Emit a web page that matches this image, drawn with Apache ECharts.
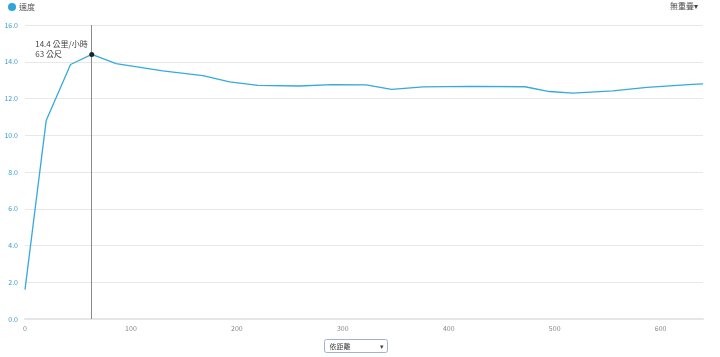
<!DOCTYPE html>
<html><head><meta charset="utf-8">
<script src="https://cdn.jsdelivr.net/npm/echarts@6/dist/echarts.min.js"></script>
<style>html,body{margin:0;padding:0;background:#fff}#c{width:720px;height:357px}</style>
</head><body><div id="c"></div>
<script>
var distances = [0, 20, 43, 63, 86, 130, 168, 193, 220, 259, 290, 322, 346, 376, 420, 472, 495, 517, 555, 587, 630, 640];
var speeds = [1.6, 10.8, 13.85, 14.4, 13.9, 13.5, 13.25, 12.9, 12.71, 12.68, 12.76, 12.74, 12.5, 12.63, 12.66, 12.64, 12.38, 12.29, 12.42, 12.6, 12.77, 12.8];
var seriesName = '速度';
var cursorDist = 63;
var cursorSpeed = 14.4;
var cursorLabels = ['14.4 公里/小時', '63 公尺'];
var overlayLabel = '無重疊▾';
var selectLabel = '依距離';
var yTicks = [0, 2, 4, 6, 8, 10, 12, 14, 16];

var font = '"Noto Sans CJK TC", "Noto Sans", sans-serif';
var pts = distances.map(function (d, i) { return [d, speeds[i]]; });
var chart = echarts.init(document.getElementById('c'), null, {renderer: 'canvas'});
chart.setOption({
  animation: false,
  backgroundColor: '#fff',
  textStyle: {fontFamily: font},
  legend: {
    left: 6, top: 1, itemWidth: 8, itemHeight: 8, itemGap: 2,
    icon: 'circle', padding: [2, 2, 2, 2],
    textStyle: {fontSize: 8, color: '#555', fontFamily: font, padding: [0, 0, 0, -2]},
    data: [seriesName]
  },
  grid: {left: 25, right: 17, top: 25, bottom: 38},
  xAxis: {
    type: 'value', min: 0, max: 640, interval: 100,
    axisLine: {show: true, lineStyle: {color: '#e4e6ea', width: 2}},
    axisTick: {show: false},
    splitLine: {show: false},
    axisLabel: {showMaxLabel: false, fontSize: 7, color: '#888', margin: 6, fontFamily: font}
  },
  yAxis: {
    type: 'value', min: yTicks[0], max: yTicks[yTicks.length - 1], interval: 2,
    axisLine: {show: false}, axisTick: {show: false},
    splitLine: {lineStyle: {color: '#e8e8e8', width: 1}},
    axisLabel: {fontSize: 7, color: '#3a9fd0', margin: 7, fontFamily: font,
      formatter: function (v) { return v.toFixed(1); }}
  },
  series: [{
    name: seriesName, type: 'line', data: pts, symbol: 'none',
    color: '#2ea6d9',
    lineStyle: {width: 1.3, color: '#35aadb'},
    markLine: {
      silent: true, symbol: 'none',
      lineStyle: {color: '#8a8a8a', width: 1, type: 'solid'},
      label: {show: false},
      data: [[{coord: [cursorDist, 0]}, {coord: [cursorDist, 16]}]]
    },
    markPoint: {
      silent: true,
      symbol: 'circle', symbolSize: 5,
      itemStyle: {color: '#1a2330'},
      label: {
        show: true, position: [-54, -13], align: 'left',
        fontSize: 8, lineHeight: 10, color: '#444', fontFamily: font,
        formatter: cursorLabels.join('\n')
      },
      data: [{coord: [cursorDist, cursorSpeed]}]
    }
  }],
  graphic: [
    {type: 'text', right: 22, top: 2,
      style: {text: overlayLabel, fontSize: 8, fill: '#444', fontFamily: font}},
    {type: 'group', left: 324, top: 339, children: [
      {type: 'rect', shape: {x: 0, y: 0, width: 63, height: 13, r: 2},
        style: {fill: '#fff', stroke: '#9fb3d0', lineWidth: 1}},
      {type: 'text', x: 5, y: 3, style: {text: selectLabel, fontSize: 7, fill: '#444', fontFamily: font}},
      {type: 'text', x: 55, y: 3, style: {text: '▾', fontSize: 7, fill: '#444', fontFamily: font}}
    ]}
  ]
});
</script></body></html>
